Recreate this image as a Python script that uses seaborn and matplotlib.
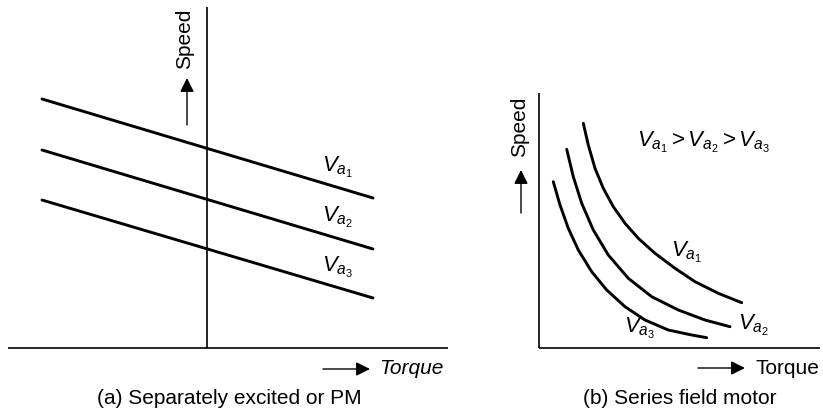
import matplotlib
matplotlib.use("Agg")
import matplotlib.pyplot as plt
import seaborn as sns
import pandas as pd
import numpy as np

# ---------------- data ----------------
# (a) separately excited / PM : straight speed-torque lines
torque_a = [-1.65, 1.66]
speed_va1_a = [2.49, 1.50]
speed_va2_a = [1.98, 0.99]
speed_va3_a = [1.48, 0.50]

# (b) series field motor : hyperbolic-like curves
torque_b_va1 = [0.443, 0.493, 0.56, 0.643, 0.743, 0.86, 0.993, 1.16, 1.36, 1.56, 1.793, 2.027]
speed_b_va1 = [2.247, 2.03, 1.797, 1.597, 1.413, 1.247, 1.097, 0.947, 0.797, 0.663, 0.547, 0.453]
torque_b_va2 = [0.277, 0.343, 0.427, 0.543, 0.693, 0.893, 1.127, 1.393, 1.66, 1.91]
speed_b_va2 = [1.987, 1.713, 1.447, 1.18, 0.93, 0.697, 0.513, 0.38, 0.28, 0.213]
torque_b_va3 = [0.143, 0.21, 0.293, 0.393, 0.527, 0.677, 0.86, 1.06, 1.293, 1.527, 1.677]
speed_b_va3 = [1.663, 1.43, 1.197, 0.98, 0.763, 0.58, 0.413, 0.28, 0.18, 0.13, 0.103]

curve_labels = [r"$V_{a_1}$", r"$V_{a_2}$", r"$V_{a_3}$"]
ordering_label = r"$V_{a_1} > V_{a_2} > V_{a_3}$"
caption_a = "(a) Separately excited or PM"
caption_b = "(b) Series field motor"

# ---------------- style ----------------
sns.set_theme(style="white")
plt.rcParams["font.family"] = ["Liberation Sans", "DejaVu Sans"]
plt.rcParams["text.color"] = "black"
plt.rcParams["mathtext.fontset"] = "custom"
plt.rcParams["mathtext.rm"] = "Liberation Sans"
plt.rcParams["mathtext.it"] = "Liberation Sans:italic"
plt.rcParams["mathtext.bf"] = "Liberation Sans:bold"

FS = 15
FS_MATH = 16
LW_CURVE = 2.1
LW_AXIS = 1.2

fig = plt.figure(figsize=(8.23, 4.17), dpi=100)
fig.patch.set_facecolor("white")

ax1 = fig.add_axes([0, 0, 470 / 823, 1])
ax2 = fig.add_axes([470 / 823, 0, 353 / 823, 1])
ax1.set_xlim(-2.07, 2.63)
ax1.set_ylim(-0.69, 3.48)
ax2.set_xlim(-0.69, 2.84)
ax2.set_ylim(-0.69, 3.48)

arrow_kw = dict(arrowstyle="-|>,head_length=0.6,head_width=0.3",
                mutation_scale=14, color="black", lw=1.0, shrinkA=0, shrinkB=0)

# ---------- panel (a) ----------
df_a = pd.DataFrame({
    "torque": torque_a * 3,
    "speed": speed_va1_a + speed_va2_a + speed_va3_a,
    "curve": ["Va1"] * 2 + ["Va2"] * 2 + ["Va3"] * 2,
})
sns.lineplot(data=df_a, x="torque", y="speed", hue="curve",
             palette=["black"] * 3, linewidth=LW_CURVE, legend=False,
             ax=ax1, sort=False)

ax1.plot([-1.99, 2.41], [0, 0], color="black", lw=LW_AXIS, solid_capstyle="butt")
ax1.plot([0, 0], [0, 3.41], color="black", lw=LW_AXIS, solid_capstyle="butt")

for lbl, y in zip(curve_labels, [1.76, 1.26, 0.76]):
    ax1.text(1.15, y, lbl, fontsize=FS_MATH, ha="left", va="baseline")

ax1.text(-0.22, 3.09, "Speed", rotation=90, fontsize=FS, ha="center", va="center")
ax1.annotate("", xy=(-0.20, 2.70), xytext=(-0.20, 2.23), arrowprops=arrow_kw)
ax1.annotate("", xy=(1.63, -0.21), xytext=(1.16, -0.21), arrowprops=arrow_kw)
ax1.text(1.72, -0.21, "Torque", fontsize=FS, style="italic", ha="left", va="center")
ax1.text(0.22, -0.50, caption_a, fontsize=FS, ha="center", va="center")

# ---------- panel (b) ----------
df_b = pd.DataFrame({
    "torque": torque_b_va1 + torque_b_va2 + torque_b_va3,
    "speed": speed_b_va1 + speed_b_va2 + speed_b_va3,
    "curve": ["Va1"] * len(torque_b_va1) + ["Va2"] * len(torque_b_va2)
             + ["Va3"] * len(torque_b_va3),
})
sns.lineplot(data=df_b, x="torque", y="speed", hue="curve",
             palette=["black"] * 3, linewidth=LW_CURVE, legend=False,
             ax=ax2, sort=False)
for line in ax2.get_lines():
    line.set_solid_joinstyle("round")

ax2.plot([0, 2.81], [0, 0], color="black", lw=LW_AXIS, solid_capstyle="butt")
ax2.plot([0, 0], [0, 2.55], color="black", lw=LW_AXIS, solid_capstyle="butt")

ax2.text(1.32, 0.91, curve_labels[0], fontsize=FS_MATH, ha="left", va="baseline")
ax2.text(1.99, 0.18, curve_labels[1], fontsize=FS_MATH, ha="left", va="baseline")
ax2.text(0.85, 0.15, curve_labels[2], fontsize=FS_MATH, ha="left", va="baseline")
ax2.text(0.98, 2.01, ordering_label, fontsize=FS_MATH, ha="left", va="baseline")

ax2.text(-0.19, 2.21, "Speed", rotation=90, fontsize=FS, ha="center", va="center")
ax2.annotate("", xy=(-0.18, 1.78), xytext=(-0.18, 1.35), arrowprops=arrow_kw)
ax2.annotate("", xy=(2.06, -0.20), xytext=(1.59, -0.20), arrowprops=arrow_kw)
ax2.text(2.16, -0.20, "Torque", fontsize=FS, ha="left", va="center")
ax2.text(1.41, -0.50, caption_b, fontsize=FS, ha="center", va="center")

for ax in (ax1, ax2):
    ax.set_axis_off()

fig.savefig("out.png", dpi=100, facecolor="white")
